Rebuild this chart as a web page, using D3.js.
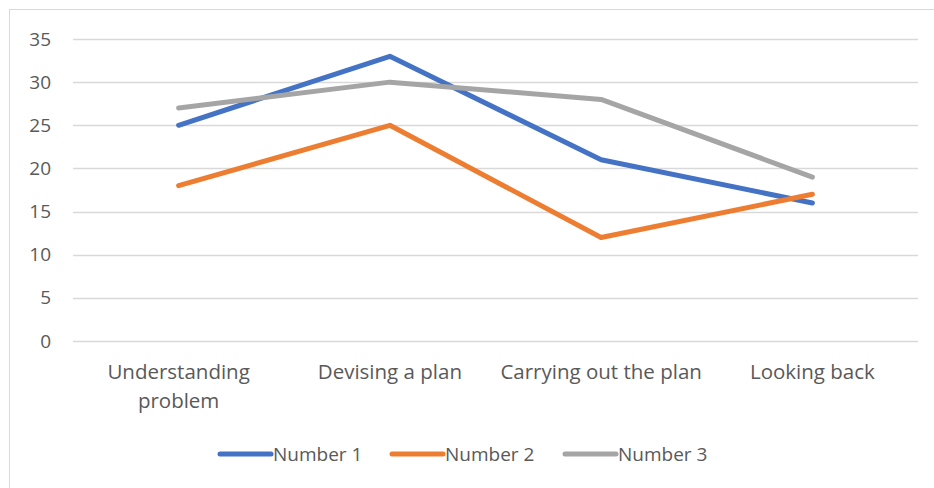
<!DOCTYPE html>
<html>
<head>
<meta charset="utf-8">
<script src="https://d3js.org/d3.v7.min.js"></script>
<style>
  body { margin: 0; background: #fff; }
  text { font-family: "Open Sans", "Liberation Sans", sans-serif; fill: #595959; }
</style>
</head>
<body>
<div id="chart"></div>
<script>
// Data
const categories = ["Understanding problem", "Devising a plan", "Carrying out the plan", "Looking back"];
const seriesNames = ["Number 1", "Number 2", "Number 3"];
const number1 = [25, 33, 21, 16];
const number2 = [18, 25, 12, 17];
const number3 = [27, 30, 28, 19];
const yTicks = [0, 5, 10, 15, 20, 25, 30, 35];
const colors = ["#4472C4", "#ED7D31", "#A5A5A5"];

const seriesData = [number1, number2, number3];

const svg = d3.select("#chart")
  .append("svg")
  .attr("width", 934)
  .attr("height", 488);

// chart border
svg.append("rect")
  .attr("x", 9.5)
  .attr("y", 9.5)
  .attr("width", 940)
  .attr("height", 500)
  .attr("fill", "none")
  .attr("stroke", "#d9d9d9")
  .attr("stroke-width", 1);

// Scales
const xScale = d3.scaleBand().domain(categories).range([73, 918]);
const yScale = d3.scaleLinear().domain([0, 35]).range([341, 39]);

// gridlines
svg.append("g")
  .selectAll("line")
  .data(yTicks)
  .join("line")
  .attr("x1", 73)
  .attr("x2", 918)
  .attr("y1", d => Math.round(yScale(d)) + 0.5)
  .attr("y2", d => Math.round(yScale(d)) + 0.5)
  .attr("stroke", "#d9d9d9")
  .attr("stroke-width", 1.3);

// y axis labels
const yAxis = d3.axisLeft(yScale).tickValues(yTicks).tickSize(0).tickPadding(0);
const gy = svg.append("g")
  .attr("transform", "translate(51, 0)")
  .call(yAxis);
gy.select(".domain").remove();
gy.selectAll("text")
  .attr("font-size", 19)
  .attr("fill", "#595959")
  .style("font-family", "'Open Sans', 'Liberation Sans', sans-serif");

// x axis labels (wrapped manually on category text)
const xLabels = svg.append("g");
categories.forEach(function (c) {
  const cx = xScale(c) + xScale.bandwidth() / 2;
  const lines = c === "Understanding problem" ? ["Understanding", "problem"] : [c];
  const t = xLabels.append("text")
    .attr("x", cx)
    .attr("y", 379)
    .attr("text-anchor", "middle")
    .attr("font-size", 20.5);
  lines.forEach(function (l, i) {
    t.append("tspan")
      .attr("x", cx)
      .attr("dy", i === 0 ? 0 : 29)
      .text(l);
  });
});

// lines
const line = d3.line()
  .x((d, i) => xScale(categories[i]) + xScale.bandwidth() / 2)
  .y(d => yScale(d));

seriesData.forEach(function (vals, i) {
  svg.append("path")
    .datum(vals)
    .attr("fill", "none")
    .attr("stroke", colors[i])
    .attr("stroke-width", 5)
    .attr("stroke-linecap", "round")
    .attr("stroke-linejoin", "round")
    .attr("d", line);
});

// legend
const legendX = [218, 390, 563];
seriesNames.forEach(function (name, i) {
  const g = svg.append("g").attr("transform", "translate(" + legendX[i] + ", 454)");
  g.append("line")
    .attr("x1", 2)
    .attr("x2", 53)
    .attr("y1", 0)
    .attr("y2", 0)
    .attr("stroke", colors[i])
    .attr("stroke-width", 5)
    .attr("stroke-linecap", "round");
  g.append("text")
    .attr("x", 55)
    .attr("y", 7)
    .attr("font-size", 19)
    .text(name);
});
</script>
</body>
</html>
